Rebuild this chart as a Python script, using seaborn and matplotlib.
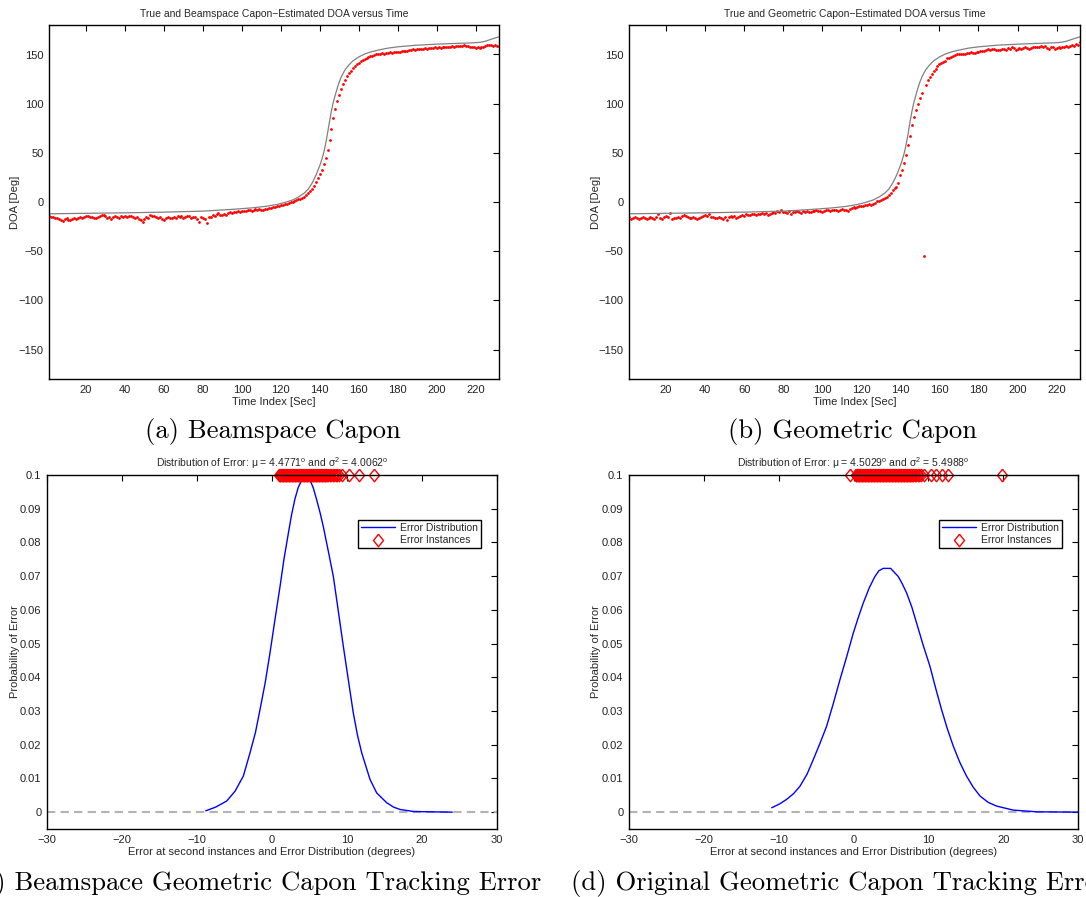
import matplotlib
matplotlib.use("Agg")
import matplotlib.pyplot as plt
from matplotlib.ticker import FuncFormatter
import numpy as np
import pandas as pd
import seaborn as sb

# true DOA track (shared by both tracking panels)
true_t = [1, 20, 40, 60, 80, 95, 105, 112, 118, 122, 126, 129, 132, 134, 136, 138, 140, 141, 142,
          143, 144, 145, 146, 147, 148, 149, 150, 151, 152, 153, 155, 157, 160, 163, 166, 170, 175,
          180, 190, 200, 210, 218, 222, 225, 228, 232]
true_doa = [-12, -11.5, -11, -10.3, -9.3, -7.5, -6, -4.5, -2.5, -0.5, 2, 5, 9, 13, 19, 27, 37, 43, 50,
            59, 70, 82, 93, 102, 109, 116, 122, 127, 131, 134.5, 139.5, 143.5, 147.5, 150.5, 152.5,
            154.5, 156.5, 157.8, 159.5, 160.5, 161.3, 161.8, 162.3, 163.5, 165.5, 168]

# beamspace capon estimates, t = 1..232
beam_est = [
    -14, -15, -15, -16, -16, -17, -18, -19, -17, -16,
    -18, -18, -17, -16, -17, -16, -15, -16, -15, -14,
    -14, -15, -15, -16, -16, -15, -14, -13, -13, -14,
    -16, -15, -17, -15, -14, -15, -16, -14, -15, -14,
    -15, -14, -14, -15, -16, -15, -17, -18, -20, -17,
    -15, -16, -13, -14, -14, -15, -16, -15, -17, -18,
    -16, -15, -16, -16, -15, -16, -14, -15, -14, -16,
    -15, -14, -14, -16, -15, -15, -17, -20, -15, -16,
    -17, -21, -15, -15, -13, -14, -12, -11, -13, -13,
    -12, -13, -11, -10, -11, -10, -10, -9, -10, -9,
    -9, -9, -8, -8, -9, -8, -7, -8, -7, -8,
    -8, -7, -7, -6, -6, -5, -5, -4, -4, -3,
    -3, -2, -2, -1, 0, 0, 1, 2, 3, 3.5,
    4, 5.5, 7, 9, 11, 13.5, 16.5, 20, 24, 28.5,
    33, 39, 45, 53, 63, 74, 85, 95, 103, 109,
    115, 120, 124.5, 128, 131, 133.5, 136, 138, 140, 141.5,
    143, 144.5, 145.5, 146.5, 147.5, 148, 148.5, 149.5, 150, 150.5,
    151, 151.5, 151, 152, 152, 152.5, 152, 153, 153, 153,
    153, 153.5, 154, 154, 153.5, 155, 155, 155.5, 155, 156,
    156, 155.5, 156, 156.5, 156, 157, 156.5, 157, 158, 157,
    158, 157, 157.5, 158, 158, 157.5, 158, 158.5, 158, 159,
    158.5, 159, 159, 160, 159, 158.5, 158, 157.5, 158, 157,
    158, 157, 158, 157.5, 159, 160, 159.5, 160, 159, 160,
    159, 158.5]

# geometric capon estimates, t = 1..232
geom_est = [
    -15, -17, -16, -15, -16, -17, -16, -15, -16, -17,
    -16, -15, -16, -17, -15, -12, -16, -17, -15, -14,
    -15, -11, -17, -16, -16, -15, -16, -14, -13, -14,
    -15, -16, -16, -15, -16, -17, -16, -15, -14, -13,
    -14, -12, -15, -15, -16, -16, -15, -16, -17, -15,
    -18, -15, -14, -15, -14, -16, -15, -14, -13, -14,
    -12, -13, -13, -12, -12, -13, -12, -12, -11, -12,
    -11, -13, -12, -11, -10, -11, -9, -10, -8, -10,
    -10, -11, -9, -12, -10, -10, -9, -10, -11, -9,
    -10, -9, -10, -10, -9, -9, -8, -9, -9, -10,
    -9, -8, -8, -9, -8, -8, -8, -9, -8, -7,
    -8, -8, -9, -7, -6, -5, -6, -5, -4, -4,
    -4, -3, -3, -2, -3, -2, -1, 1, 1.5, 2,
    3, 4, 5, 7, 9.5, 12, 14, 15, 19, 27,
    33, 40, 48, 58, 67, 78, 86, 94, 100, 106,
    111, -55, 119, 124, 127, 130, 133, 135, 138, 140,
    141, 142, 143, 146, 146, 147, 148, 149, 150, 150,
    151, 150.5, 151, 152, 151.5, 153, 152, 151.5, 152.5, 153,
    154, 153.5, 154, 155, 155.5, 155, 156, 155.5, 155, 154.5,
    155, 155.5, 156, 155, 157, 156, 158, 157, 155, 156,
    157, 156, 157, 158, 157, 156, 157, 158, 157.5, 158,
    158, 159, 158, 158.5, 157, 156, 158, 157.5, 156, 157,
    158, 157, 157.5, 158, 159, 158, 159, 160, 159, 161,
    160, 163]

# error distributions
beam_pdf_x = [-8.84, -7.5, -6.04, -4.93, -3.82, -2.93, -2.2, -1.6, -0.9, -0.27, 0.4, 1.07, 1.6,
              2.18, 2.6, 3.07, 3.5, 3.96, 4.62, 5.07, 5.5, 5.96, 6.4, 6.84, 7.5, 8.18, 8.85, 9.51,
              10.2, 10.84, 11.4, 11.96, 13.07, 13.96, 15.29, 16.2, 17.07, 18.84, 21.0, 24.04]
beam_pdf_y = [0.0004, 0.0015, 0.0033, 0.0062, 0.0107, 0.0176, 0.0237, 0.0304, 0.0385, 0.0472,
              0.0572, 0.0669, 0.0751, 0.0827, 0.0881, 0.093, 0.0963, 0.0985, 0.0997, 0.0985,
              0.0962, 0.0926, 0.0889, 0.0847, 0.0775, 0.0699, 0.0595, 0.0492, 0.0389, 0.0294,
              0.0228, 0.0176, 0.0097, 0.0057, 0.0028, 0.0015, 0.0008, 0.0002, 0.0001, 0.0]
geom_pdf_x = [-10.93, -9.9, -8.93, -8.0, -7.15, -6.2, -5.37, -4.5, -3.59, -2.7, -1.81, -0.9, -0.03,
              0.65, 1.3, 2.1, 2.86, 3.4, 3.97, 4.96, 5.98, 6.5, 7.1, 7.8, 8.43, 9.3, 10.21, 11.0,
              11.77, 12.5, 13.33, 14.2, 15.1, 16.0, 16.9, 18.0, 19.12, 21.35, 24.47, 30.0]
geom_pdf_y = [0.0013, 0.0024, 0.0038, 0.0055, 0.0077, 0.0113, 0.0156, 0.0203, 0.0255, 0.0322,
              0.0393, 0.0462, 0.0531, 0.0578, 0.062, 0.0665, 0.0699, 0.0716, 0.0723, 0.0723,
              0.0699, 0.0678, 0.065, 0.0608, 0.0561, 0.0496, 0.0433, 0.0366, 0.0304, 0.025,
              0.0196, 0.0148, 0.0107, 0.0074, 0.0048, 0.0029, 0.0018, 0.0006, 0.0001, 0.0]

beam_err = [0.9, 1.0, 1.1, 1.2, 1.3, 1.4, 1.5, 1.6, 1.7, 1.8, 1.9, 2.0, 2.1, 2.2, 2.3, 2.4, 2.5,
            2.6, 2.7, 2.8, 2.9, 3.0, 3.1, 3.2, 3.3, 3.4, 3.5, 3.6, 3.7, 3.8, 3.9, 4.0, 4.1, 4.2,
            4.3, 4.4, 4.5, 4.6, 4.7, 4.8, 4.9, 5.0, 5.1, 5.2, 5.3, 5.4, 5.5, 5.6, 5.7, 5.8, 5.9,
            6.0, 6.1, 6.2, 6.3, 6.4, 6.5, 6.6, 6.7, 6.8, 6.9, 7.0, 7.1, 7.2, 7.3, 7.5, 7.7, 7.9,
            8.1, 8.3, 8.5, 8.7, 8.9, 9.3, 10.3, 11.6, 13.6]
geom_err = [-0.5, 0.3, 0.4, 0.5, 0.6, 0.7, 0.8, 0.9, 1.0, 1.1, 1.2, 1.3, 1.4, 1.5, 1.6, 1.7, 1.8,
            1.9, 2.0, 2.1, 2.2, 2.3, 2.4, 2.5, 2.6, 2.7, 2.8, 2.9, 3.0, 3.1, 3.2, 3.3, 3.4, 3.5,
            3.6, 3.7, 3.8, 3.9, 4.0, 4.1, 4.2, 4.3, 4.4, 4.5, 4.6, 4.7, 4.8, 4.9, 5.0, 5.1, 5.2,
            5.3, 5.4, 5.5, 5.6, 5.7, 5.8, 5.9, 6.0, 6.1, 6.2, 6.3, 6.4, 6.5, 6.6, 6.7, 6.8, 6.9,
            7.0, 7.1, 7.2, 7.3, 7.4, 7.5, 7.6, 7.7, 7.8, 7.9, 8.0, 8.2, 8.4, 8.6, 8.8, 9.0, 9.4,
            10.3, 11.0, 11.8, 12.6, 19.9]
err_level = 0.1
baseline = 0.0

mu_beam, sig_beam = 4.4771, 4.0062
mu_geom, sig_geom = 4.5029, 5.4988

sb.set_theme(style="white")
plt.rcParams['font.family'] = ['Liberation Sans', 'DejaVu Sans']
plt.rcParams['mathtext.fontset'] = 'custom'
plt.rcParams['mathtext.rm'] = 'Liberation Sans'
plt.rcParams['mathtext.it'] = 'Liberation Sans:italic'

fig = plt.figure(figsize=(10.86, 8.97), dpi=100)
ax_a = fig.add_axes([49/1086, 1-379/897, 450/1086, 354/897])
ax_b = fig.add_axes([629/1086, 1-379/897, 451/1086, 354/897])
ax_c = fig.add_axes([47/1086, 1-829/897, 450/1086, 354/897])
ax_d = fig.add_axes([629/1086, 1-829/897, 449/1086, 354/897])

# matlab style diamond, a bit taller than wide
diamond = [(0, 1), (0.8, 0), (0, -1), (-0.8, 0), (0, 1)]


def matlab_axes(ax, lab_x):
    for s in ax.spines.values():
        s.set_visible(True)
        s.set_color('black')
        s.set_linewidth(1.0)
    ax.tick_params(direction='in', top=True, right=True, length=4, width=0.8,
                   labelsize=8, colors='black', labelcolor='#222222', pad=4)
    ax.yaxis.set_label_coords(lab_x, 0.5)
    ax.set_facecolor('white')


tt = np.arange(1, 233)
for ax, est, name, lx in [(ax_a, beam_est, 'Beamspace', -0.064), (ax_b, geom_est, 'Geometric', -0.062)]:
    sb.lineplot(x=true_t, y=true_doa, ax=ax, color='#808080', linewidth=0.9, errorbar=None)
    sb.scatterplot(x=tt, y=est, ax=ax, color='red', s=4, marker='o', linewidth=0)
    ax.set_xlim(1, 232)
    ax.set_ylim(-180, 180)
    ax.set_xticks(range(20, 221, 20))
    ax.set_yticks(range(-150, 151, 50))
    ax.set_xlabel('Time Index [Sec]', fontsize=8, labelpad=2)
    ax.set_ylabel('DOA [Deg]', fontsize=8)
    ax.set_title('True and %s Capon\u2212Estimated DOA versus Time' % name, fontsize=7.5, pad=6)
    matlab_axes(ax, lx)

fmt = FuncFormatter(lambda v, p: '%g' % round(v, 3))
for ax, px, py, err, mu, sig, lx in [(ax_c, beam_pdf_x, beam_pdf_y, beam_err, mu_beam, sig_beam, -0.06),
                                     (ax_d, geom_pdf_x, geom_pdf_y, geom_err, mu_geom, sig_geom, -0.062)]:
    ax.axhline(baseline, color='#b3b3b3', linewidth=1.5, linestyle=(0, (4, 2.5)))
    sb.lineplot(x=px, y=py, ax=ax, color='blue', linewidth=1.0, errorbar=None,
                label='Error Distribution')
    ax.plot(err, [err_level]*len(err), linestyle='none', marker=diamond, markersize=9,
            markerfacecolor='none', markeredgecolor='red', markeredgewidth=1.0,
            label='Error Instances', clip_on=False)
    ax.set_xlim(-30, 30)
    ax.set_ylim(-0.005, 0.1)
    ax.set_xticks(range(-30, 31, 10))
    ax.set_yticks(np.arange(0, 0.1001, 0.01))
    ax.yaxis.set_major_formatter(fmt)
    ax.set_xlabel('Error at second instances and Error Distribution (degrees)', fontsize=8, labelpad=2)
    ax.set_ylabel('Probability of Error', fontsize=8)
    ax.set_title('Distribution of Error: \u03bc = %.4f$^{\\rm o}$ and \u03c3$^{2}$ = %.4f$^{\\rm o}$'
                 % (mu, sig), fontsize=7.5, pad=6)
    leg = ax.legend(loc='upper right', bbox_to_anchor=(0.964, 0.873), fontsize=7.5,
                    frameon=True, fancybox=False, edgecolor='black', framealpha=1,
                    borderpad=0.3, labelspacing=0.2, handlelength=3.2, handletextpad=0.5,
                    borderaxespad=0)
    leg.get_frame().set_linewidth(1.0)
    matlab_axes(ax, lx)

cap = dict(family='cmr10', fontsize=19.2, color='black', va='center')
fig.text(273/1086, 1-431/897, '(a) Beamspace Capon', ha='center', **cap)
fig.text(853/1086, 1-431/897, '(b) Geometric Capon', ha='center', **cap)
fig.text(541/1086, 1-883/897, '(c) Beamspace Geometric Capon Tracking Error', ha='right', **cap)
fig.text(571/1086, 1-883/897, '(d) Original Geometric Capon Tracking Error', ha='left', **cap)

fig.savefig('out.png', dpi=100)
